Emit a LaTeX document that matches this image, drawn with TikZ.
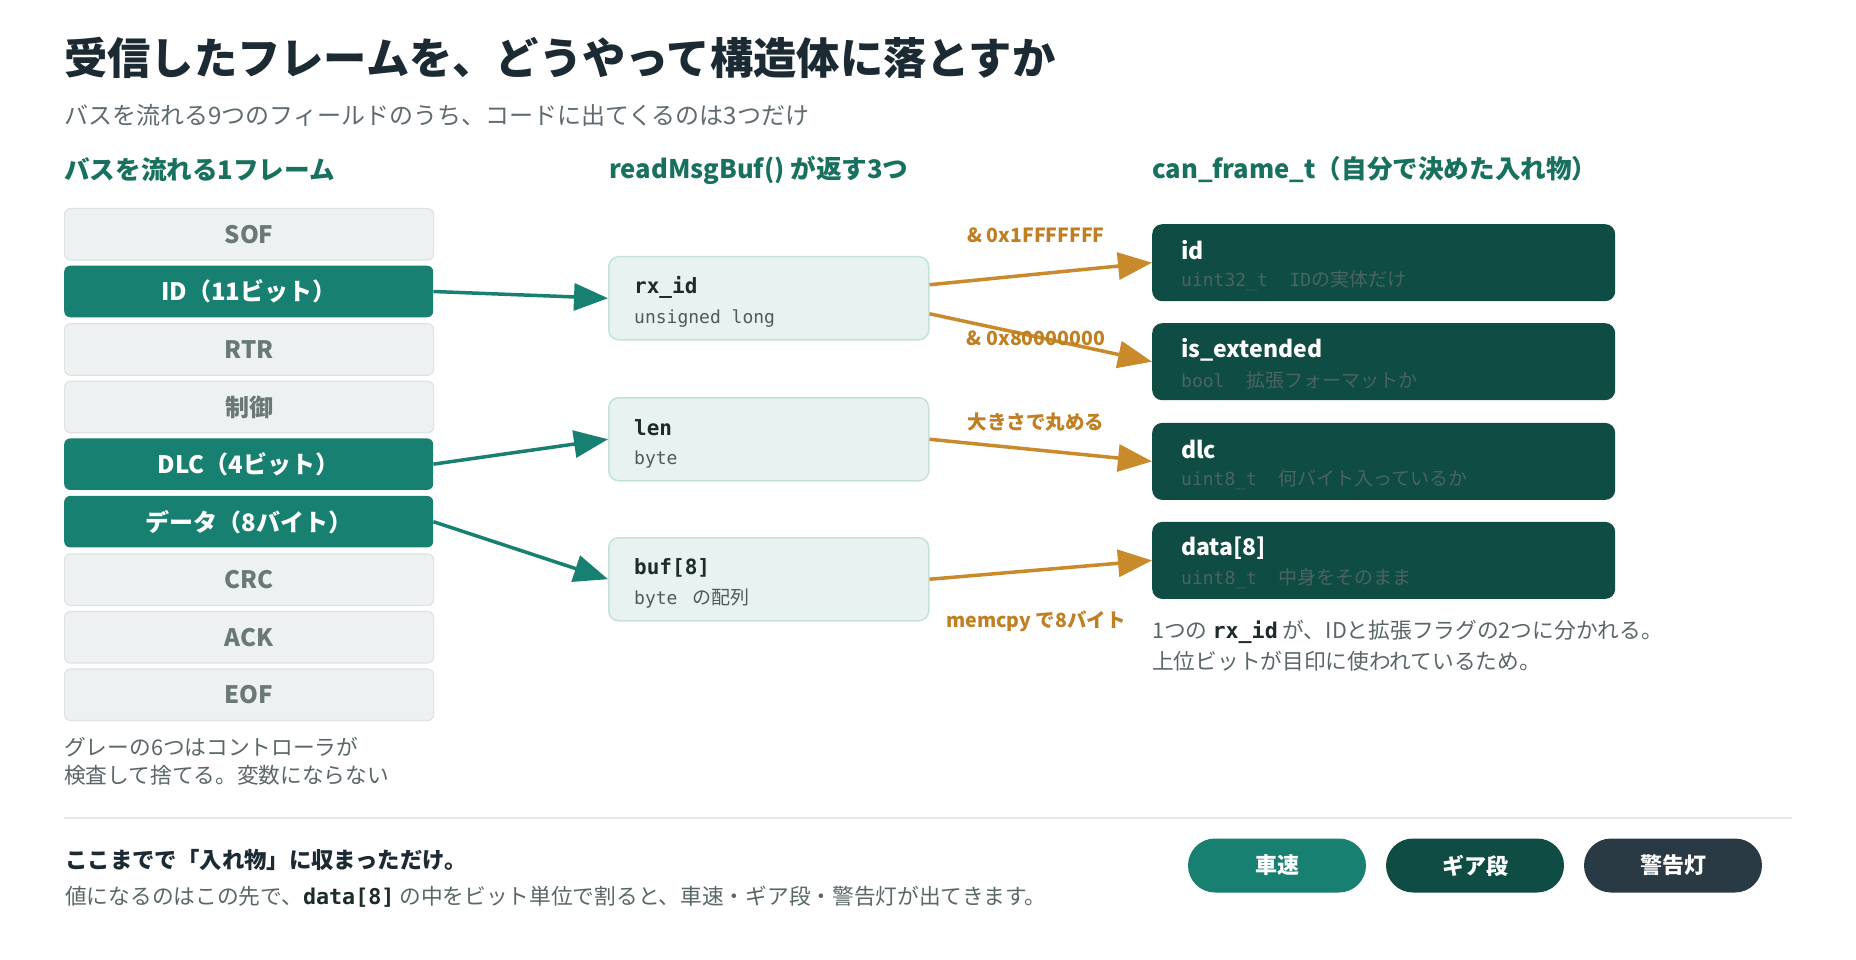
\documentclass[tikz,border=0pt]{standalone}
\usepackage{fontspec}
\setmainfont{Noto Sans CJK JP}
\newfontfamily\monof{DejaVu Sans Mono}
\usetikzlibrary{arrows.meta,positioning}
\newcommand\setfs[1]{\fontsize{#1pt}{#1pt}\selectfont}
\definecolor{titlec}{HTML}{1C2B33}
\definecolor{subc}{HTML}{5F6B70}
\definecolor{headc}{HTML}{18705F}
\definecolor{teal}{HTML}{178070}
\definecolor{dteal}{HTML}{0F4C44}
\definecolor{slate}{HTML}{2A3A44}
\definecolor{grayfill}{HTML}{EEF1F1}
\definecolor{grayline}{HTML}{DDE3E3}
\definecolor{graytext}{HTML}{6A7878}
\definecolor{midfill}{HTML}{E8F3F1}
\definecolor{midline}{HTML}{C3E2DB}
\definecolor{orange}{HTML}{C98A2B}
\definecolor{orangetext}{HTML}{BF7F22}
\definecolor{monodark}{HTML}{1C2B2B}
\definecolor{monogray}{HTML}{4F5B5B}
\definecolor{rsub}{HTML}{4A6462}
\definecolor{bodyc}{HTML}{5A6668}
\definecolor{divc}{HTML}{E3E8E8}
\begin{document}
\begin{tikzpicture}[x=1pt,y=-1pt,
  lbox/.style={rounded corners=6pt, minimum width=369pt, minimum height=51.5pt, anchor=north west, inner sep=0pt, font=\setfs{24}\bfseries},
  graybox/.style={lbox, draw=grayline, fill=grayfill, line width=1.2pt, text=graytext},
  greenbox/.style={lbox, fill=teal, text=white},
  midbox/.style={draw=midline, fill=midfill, line width=1.5pt, rounded corners=10pt, minimum width=320pt, minimum height=83pt, anchor=north west, inner sep=0pt},
  rbox/.style={fill=dteal, rounded corners=10pt, minimum width=463pt, minimum height=77pt, anchor=north west, inner sep=0pt},
  txt/.style={anchor=west, inner sep=0pt},
  midtitle/.style={txt, font=\monof\setfs{21}\bfseries, text=monodark},
  midsub/.style={txt, font=\monof\setfs{18}, text=monogray},
  rtitle/.style={txt, font=\setfs{23}\bfseries, text=white},
  rsubs/.style={txt, font=\setfs{19}, text=rsub},
  olabel/.style={inner sep=0pt, font=\setfs{19.5}\bfseries, text=orangetext},
  body/.style={txt, font=\setfs{21.7}, text=bodyc},
  garrow/.style={draw=teal, line width=3.5pt, -{Triangle[length=34pt,width=27pt]}},
  oarrow/.style={draw=orange, line width=3.5pt, -{Triangle[length=34pt,width=27pt]}},
  pill/.style={rounded corners=27pt, minimum width=178pt, minimum height=54pt, inner sep=0pt, font=\setfs{22}\bfseries, text=white},
  heading/.style={txt, font=\setfs{25.6}\bfseries, text=headc}
]
\useasboundingbox (0,0) rectangle (1856,960);
\fill[white] (0,0) rectangle (1856,960);

% title
\node[txt, font=\setfs{43.3}\bfseries, text=titlec] (title) at (64,58) {受信したフレームを、どうやって構造体に落とすか};
\node[txt, font=\setfs{24}, text=subc] (subtitle) at (64,115) {バスを流れる9つのフィールドのうち、コードに出てくるのは3つだけ};

% headings
\node[heading] (h1) at (64,170) {バスを流れる1フレーム};
\node[heading] (h2) at (609,170) {readMsgBuf() が返す3つ};
\node[heading] (h3) at (1152,170) {can\_frame\_t（自分で決めた入れ物）};

% left column
\node[graybox]  (sof)   at (64,208)    {SOF};
\node[greenbox] (idf)   at (64,265.55) {ID（11ビット）};
\node[graybox]  (rtr)   at (64,323.1)  {RTR};
\node[graybox]  (ctl)   at (64,380.65) {制御};
\node[greenbox] (dlcf)  at (64,438.2)  {DLC（4ビット）};
\node[greenbox] (dataf) at (64,495.75) {データ（8バイト）};
\node[graybox]  (crc)   at (64,553.3)  {CRC};
\node[graybox]  (ack)   at (64,610.85) {ACK};
\node[graybox]  (eof)   at (64,668.4)  {EOF};
\node[body] (cap1) at (64,747) {グレーの6つはコントローラが};
\node[body] (cap2) at (64,775) {検査して捨てる。変数にならない};

% middle column
\node[midbox] (rxid) at (608,256) {};
\node[midtitle] (rxidt) at (634,287) {rx\_id};
\node[midsub] (rxids) at (634,319) {unsigned long};
\node[midbox] (len) at (608,397) {};
\node[midtitle] (lent) at (634,428) {len};
\node[midsub] (lens) at (634,460) {byte};
\node[midbox] (buf) at (608,537) {};
\node[midtitle] (buft) at (634,568) {buf[8]};
\node[midsub] (bufs) at (634,599) {byte {\rmfamily\setfs{19} の配列}};

% right column
\node[rbox] (rid) at (1152,224) {};
\node[rtitle] (ridt) at (1181,250.5) {id};
\node[rsubs] (rids) at (1181,281) {{\monof\setfs{18}uint32\_t\ \ ID}の実体だけ};
\node[rbox] (rext) at (1152,323) {};
\node[rtitle] (rextt) at (1181,349.5) {is\_extended};
\node[rsubs] (rexts) at (1181,380) {{\monof\setfs{18}bool\ \ }拡張フォーマットか};
\node[rbox] (rdlc) at (1152,422.7) {};
\node[rtitle] (rdlct) at (1181,449.5) {dlc};
\node[rsubs] (rdlcs) at (1181,480) {{\monof\setfs{18}uint8\_t\ \ }何バイト入っているか};
\node[rbox] (rdata) at (1152,521.7) {};
\node[rtitle] (rdatat) at (1181,548.5) {data[8]};
\node[rsubs] (rdatas) at (1181,579) {{\monof\setfs{18}uint8\_t\ \ }中身をそのまま};

\node[body] (note1) at (1152,632) {1つの {\monof\bfseries\color{monodark}rx\_id} が、IDと拡張フラグの2つに分かれる。};
\node[body] (note2) at (1152,661) {上位ビットが目印に使われているため。};

% green arrows
\draw[garrow] (idf.east) -- (rxid.west);
\draw[garrow] (dlcf.east) -- (len.west);
\draw[garrow] (dataf.east) -- (buf.west);

% orange arrows
\draw[oarrow] ([yshift=13.5pt]rxid.east) -- (rid.west);
\draw[oarrow] ([yshift=-15.5pt]rxid.east) -- (rext.west);
\draw[oarrow] (len.east) -- (rdlc.west);
\draw[oarrow] (buf.east) -- (rdata.west);

\node[olabel] (l1) at (1036,235) {\& 0x1FFFFFFF};
\node[olabel] (l2) at (1036,338) {\& 0x80000000};
\node[olabel] (l3) at (1036,422) {大きさで丸める};
\node[olabel] (l4) at (1036,621) {memcpy で8バイト};

% divider
\draw[divc, line width=2pt] (64,818) -- (1792,818);

% bottom
\node[txt, font=\setfs{22.4}\bfseries, text=titlec] (b1) at (65,860) {ここまでで「入れ物」に収まっただけ。};
\node[body] (b2) at (65,897) {値になるのはこの先で、{\monof\bfseries\color{monodark}data[8]} の中をビット単位で割ると、車速・ギア段・警告灯が出てきます。};

\node[pill, fill=teal] (p1) at (1277,865.5) {車速};
\node[pill, fill=dteal] (p2) at (1475,865.5) {ギア段};
\node[pill, fill=slate] (p3) at (1673,865.5) {警告灯};
\end{tikzpicture}
\end{document}
